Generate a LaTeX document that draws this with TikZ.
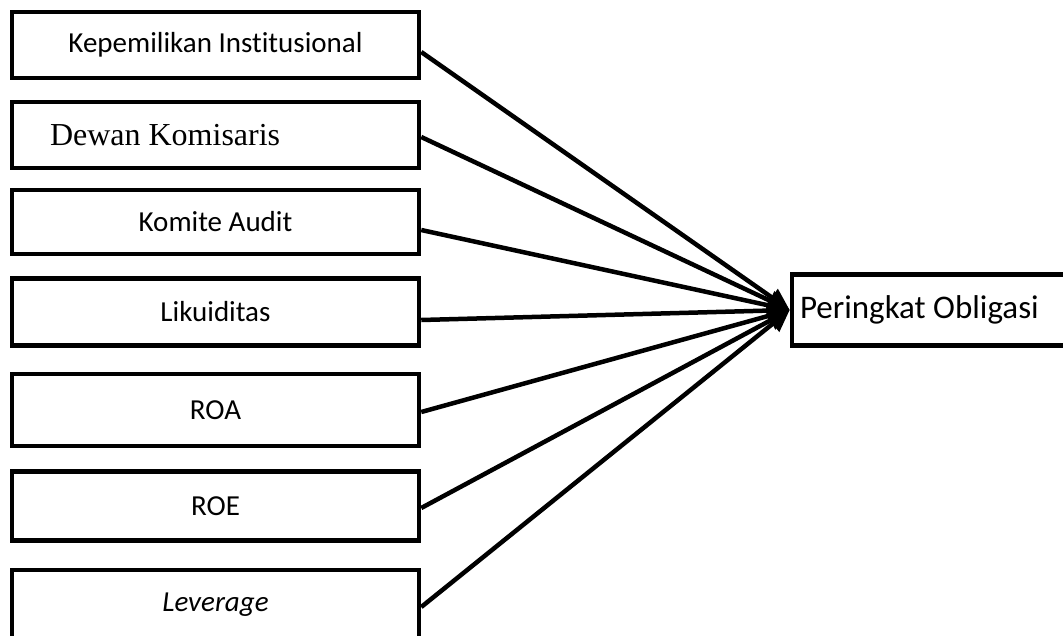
\documentclass[tikz,border=0pt]{standalone}
\usepackage{fontspec}
\setmainfont{Carlito}[Ligatures=CommonOff]
\newfontfamily\timesfont{Liberation Serif}
\usetikzlibrary{arrows.meta}

\begin{document}
\begin{tikzpicture}[x=1pt,y=-1pt,line width=4.5pt,
varblock/.style={draw,rectangle,inner sep=0pt,minimum width=407pt,minimum height=68pt,line width=4.5pt,font=\fontsize{29}{32}\selectfont},
resblock/.style={draw,rectangle,inner sep=0pt,minimum width=283pt,minimum height=71pt,line width=4.5pt,font=\fontsize{33}{36}\selectfont},
link/.style={-{Triangle[length=22pt,width=20pt]},line width=4.5pt}]

\useasboundingbox (0,0) rectangle (1063,635);

\draw (215.5,45) node[varblock,minimum height=66pt] (kep) {Kepemilikan Institusional};
\draw (215.5,135) node[varblock,minimum height=66pt] (dew) {\makebox[331pt][l]{\timesfont\fontsize{32}{36}\selectfont Dewan Komisaris}};
\draw (215.5,222) node[varblock,minimum height=64pt] (kom) {Komite Audit};
\draw (215.5,312) node[varblock,minimum height=67pt] (lik) {Likuiditas};
\draw (215.5,410) node[varblock,minimum height=72pt] (roa) {ROA};
\draw (215.5,506) node[varblock,minimum height=69pt] (roe) {ROE};
\draw (215.5,605) node[varblock,minimum height=70pt] (lev) {\textit{Leverage}};

\draw (933.5,310) node[resblock] (po) {\raisebox{4pt}{\makebox[267pt][l]{Peringkat Obligasi}}};

\draw[link] ([yshift=-7pt]kep.east) -- (po.west);
\draw[link] ([yshift=-2pt]dew.east) -- (po.west);
\draw[link] ([yshift=-8pt]kom.east) -- (po.west);
\draw[link] ([yshift=-8pt]lik.east) -- (po.west);
\draw[link] ([yshift=-2pt]roa.east) -- (po.west);
\draw[link] ([yshift=-2pt]roe.east) -- (po.west);
\draw[link] ([yshift=-2pt]lev.east) -- (po.west);

\end{tikzpicture}
\end{document}
